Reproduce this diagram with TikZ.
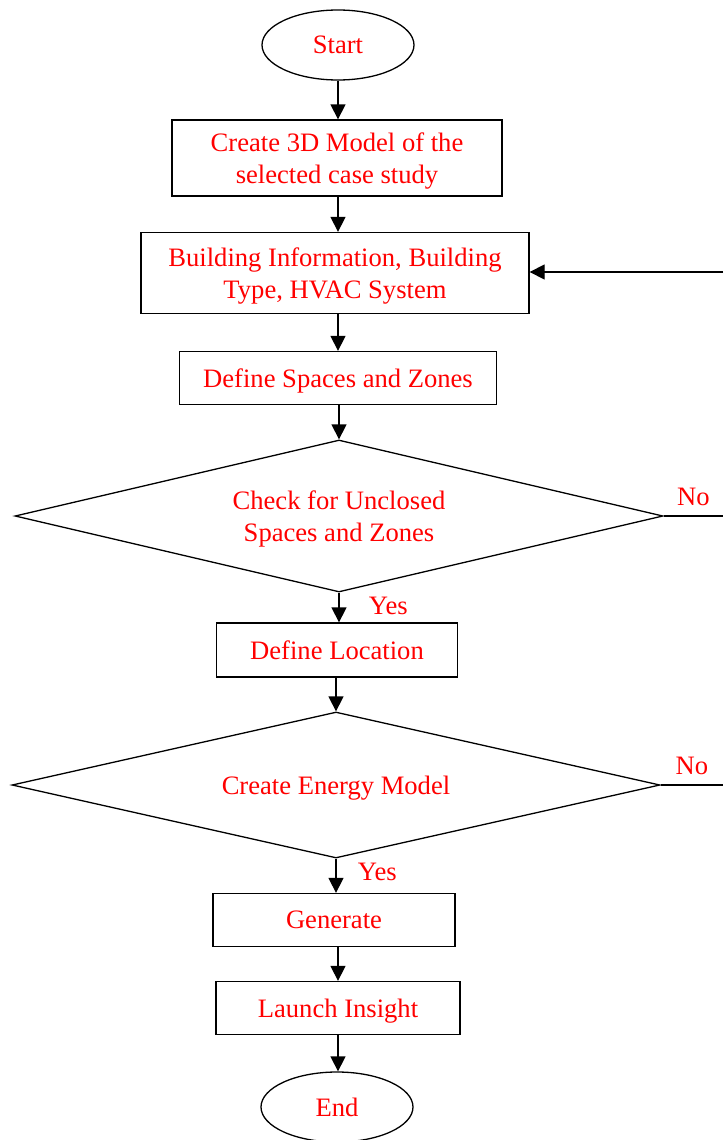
\documentclass[tikz,border=0pt]{standalone}
\usepackage{fontspec}
\setmainfont{Liberation Serif}
\usetikzlibrary{arrows.meta,shapes.geometric}

\begin{document}
\begin{tikzpicture}[x=1pt,y=-1pt,line width=1.3pt,>={Triangle[length=15pt,width=15pt]},
  every node/.style={text=red,font=\fontsize{26.6}{31.5}\selectfont},
  term/.style={draw,ellipse,text depth=0pt,minimum width=152pt,minimum height=70pt,inner sep=0pt},
  stepbox/.style={draw,rectangle,align=center,text depth=0pt,inner sep=0pt},
  check/.style={draw,diamond,aspect=4.26,text depth=0pt,inner sep=0pt,align=center,minimum width=648pt}]
  \useasboundingbox (0,0) rectangle (723,1140);
  % terminals and steps
  \node[term] (start) at (338,45) {Start};
  \node[stepbox,minimum width=330pt,minimum height=76pt] (model) at (337,158)
    {Create 3D Model of the\\selected case study};
  \node[stepbox,minimum width=388pt,minimum height=81pt] (info) at (335,273)
    {Building Information, Building\\Type, HVAC System};
  \node[stepbox,minimum width=317pt,minimum height=53pt] (spaces) at (338,378)
    {Define Spaces and Zones};
  \node[check,minimum height=152pt] (unclosed) at (339,516)
    {Check for Unclosed\\Spaces and Zones};
  \node[stepbox,minimum width=241pt,minimum height=54pt] (location) at (337,650)
    {Define Location};
  \node[check,minimum height=146pt] (energy) at (336,785) {Create Energy Model};
  \node[stepbox,minimum width=242pt,minimum height=53pt] (generate) at (334,920)
    {Generate};
  \node[stepbox,minimum width=244pt,minimum height=53pt] (insight) at (338,1008)
    {Launch Insight};
  \node[term] (end) at (337,1107) {End};
  % main flow, kept vertical
  \draw[->] (start.south) -- (start.south |- model.north);
  \draw[->] (start.south |- model.south) -- (start.south |- info.north);
  \draw[->] (start.south |- info.south) -- (start.south |- spaces.north);
  \draw[->] (spaces.south -| unclosed.north) -- (unclosed.north);
  \draw[->] (unclosed.south) -- node[right=26pt,pos=0.45]{Yes} (unclosed.south |- location.north);
  \draw[->] (location.south -| energy.north) -- (energy.north);
  \draw[->] (energy.south) -- node[right=18pt,pos=0.4]{Yes} (energy.south |- generate.north);
  \draw[->] (generate.south -| insight.south) -- (insight.north);
  \draw[->] (insight.south) -- (insight.south |- end.north);
  % loops leaving the page on the right
  \coordinate (back) at (723,272);
  \coordinate (no1) at (723,516);
  \coordinate (no2) at (723,785);
  \draw[->] (back) -- (info.east |- back);
  \draw (unclosed.east) -- node[above=6pt]{No} (no1);
  \draw (energy.east) -- node[above=6pt]{No} (no2);
\end{tikzpicture}
\end{document}
